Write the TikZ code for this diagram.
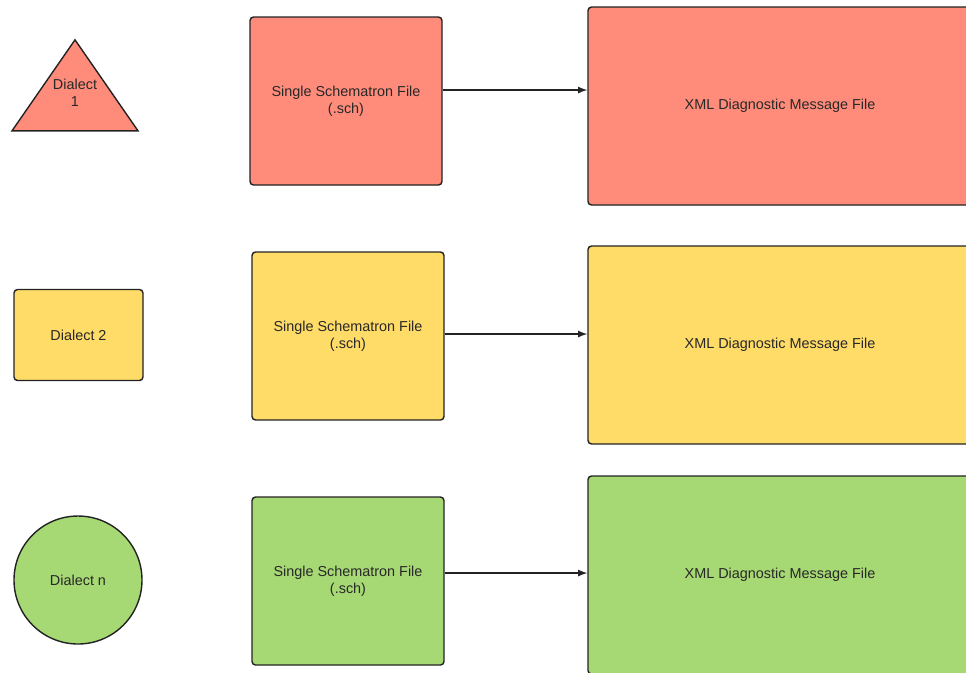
\documentclass[tikz,border=0pt]{standalone}
\usepackage{fontspec}
\setmainfont{Liberation Sans}
\usetikzlibrary{shapes.geometric,positioning,calc}
\definecolor{dialectred}{RGB}{255,140,122}
\definecolor{dialectyellow}{RGB}{255,219,103}
\definecolor{dialectgreen}{RGB}{166,216,115}
\definecolor{edgegray}{RGB}{35,35,35}
\definecolor{textgray}{RGB}{40,40,40}

\begin{document}
\begin{tikzpicture}[
    shapebox/.style={draw=edgegray, line width=0.8pt, text=textgray, font=\fontsize{8.2}{9.7}\selectfont, align=center},
    dialectbox/.style={shapebox, rectangle, rounded corners=2pt, minimum width=2.58cm, minimum height=1.82cm},
    schbox/.style={shapebox, rectangle, rounded corners=2pt, minimum width=3.84cm, minimum height=3.36cm},
    xmlbox/.style={shapebox, rectangle, rounded corners=2pt, minimum width=7.68cm, minimum height=3.96cm},
    flow/.style={-latex, draw=edgegray, line width=0.8pt}]
    \clip (0,0) rectangle (19.32,-13.44);

    % dialects
    \node[shapebox, isosceles triangle, isosceles triangle stretches, shape border rotate=90, minimum width=2.52cm, minimum height=1.82cm, inner sep=0pt, fill=dialectred, anchor=apex,
        label={[text=textgray, font=\fontsize{8.2}{9.7}\selectfont, align=center, yshift=0.1cm]center:Dialect\\1}] (dialect1) at (1.5,-0.76) {};
    \node[dialectbox, fill=dialectyellow] (dialect2) at (1.57,-6.7) {Dialect 2};
    \node[shapebox, circle, minimum size=2.56cm, fill=dialectgreen] (dialectn) at (1.56,-11.6) {Dialect n};

    % schematron files
    \node[schbox, fill=dialectred] (sch1) at (6.92,-2.02) {Single Schematron File\\(.sch)};
    \node[schbox, fill=dialectyellow] (sch2) at (6.96,-6.72) {Single Schematron File\\(.sch)};
    \node[schbox, fill=dialectgreen] (schn) at (6.96,-11.62) {Single Schematron File\\(.sch)};

    % diagnostic messages
    \node[xmlbox, fill=dialectred] (xml1) at (15.6,-2.12) {\raisebox{0.08cm}{XML Diagnostic Message File}};
    \node[xmlbox, fill=dialectyellow] (xml2) at (15.6,-6.9) {\raisebox{0.08cm}{XML Diagnostic Message File}};
    \node[xmlbox, fill=dialectgreen] (xmln) at (15.6,-11.5) {\raisebox{0.04cm}{XML Diagnostic Message File}};

    \draw[flow] ([yshift=0.22cm]sch1.east) -- ([yshift=0.22cm]sch1.east -| xml1.west);
    \draw[flow] ([yshift=0.04cm]sch2.east) -- ([yshift=0.04cm]sch2.east -| xml2.west);
    \draw[flow] ([yshift=0.16cm]schn.east) -- ([yshift=0.16cm]schn.east -| xmln.west);
\end{tikzpicture}
\end{document}
